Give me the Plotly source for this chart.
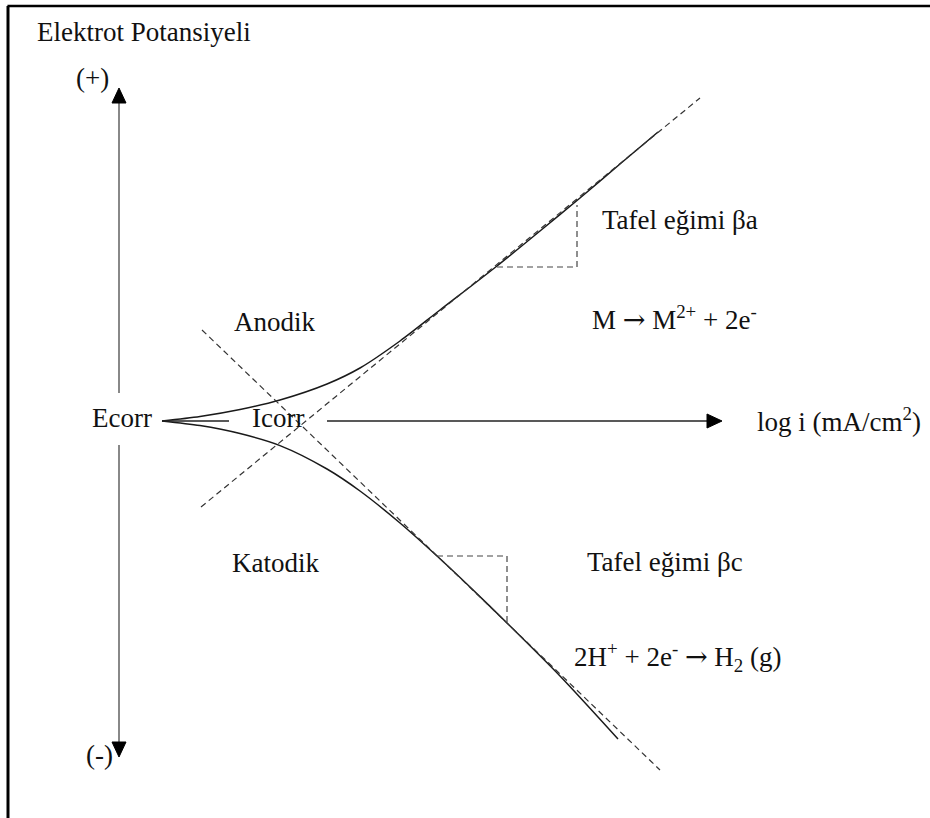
import plotly.graph_objects as go

# Polarization (Tafel) diagram: x = log i, y = electrode potential (Ecorr at 0)
anodic_logi = [0, 0.38, 0.78, 1.18, 1.65, 1.98, 2.38, 2.78, 3.35, 3.78, 4.18, 4.58, 4.96]
anodic_E = [0, 0.045, 0.115, 0.21, 0.37, 0.53, 0.80, 1.11, 1.55, 1.90, 2.23, 2.57, 2.89]

cathodic_logi = [0, 0.38, 0.78, 1.18, 1.65, 1.98, 2.38, 2.75, 3.08, 3.45, 3.98, 4.56]
cathodic_E = [0, -0.046, -0.126, -0.246, -0.48, -0.70, -1.02, -1.35, -1.66, -2.02, -2.55, -3.18]

# Tafel extrapolation lines (end points)
tafel_a_logi = [0.39, 5.38]
tafel_a_E = [-0.86, 3.23]
tafel_c_logi = [0.40, 4.98]
tafel_c_E = [0.91, -3.49]

# Slope triangles
tri_a_logi = [3.35, 4.15, 4.15]
tri_a_E = [1.54, 1.54, 2.16]
tri_c_logi = [2.75, 3.45, 3.45]
tri_c_E = [-1.35, -1.35, -2.02]

# Axes of the diagram
E_axis_x = -0.43
E_axis_top, E_axis_bottom = 3.33, -3.36
E_axis_gap = [0.28, -0.24]
i_axis_segments = [[0.0, 0.67], [1.65, 5.60]]

X_RANGE = [-1.62, 7.68]
Y_RANGE = [-3.97, 4.21]

FONT = "Liberation Serif, Times New Roman, serif"
FS = 27
HEAD_L, HEAD_W = 0.15, 0.14
ARROW = '<span style="font-family:DejaVu Serif">\u2192</span>'

fig = go.Figure()

def line(x, y, color="#1a1a1a", width=1.4, dash=None, shape="linear"):
    fig.add_trace(go.Scatter(x=x, y=y, mode="lines", hoverinfo="skip",
                             line=dict(color=color, width=width, dash=dash, shape=shape,
                                       smoothing=0.8 if shape == "spline" else None)))

def head(tx, ty, dx, dy):
    # filled triangle with its tip at (tx, ty) pointing along (dx, dy)
    bx, by = tx - dx * HEAD_L, ty - dy * HEAD_L
    px, py = -dy * HEAD_W / 2, dx * HEAD_W / 2
    fig.add_trace(go.Scatter(x=[tx, bx + px, bx - px, tx], y=[ty, by + py, by - py, ty],
                             mode="lines", fill="toself", fillcolor="#000",
                             line=dict(color="#000", width=1), hoverinfo="skip"))

# polarization curves
line(anodic_logi, anodic_E, shape="spline", width=1.5)
line(cathodic_logi, cathodic_E, shape="spline", width=1.5)

# Tafel lines and slope triangles
dash = "6px,4px"
line(tafel_a_logi, tafel_a_E, color="#333", width=1.2, dash=dash)
line(tafel_c_logi, tafel_c_E, color="#333", width=1.2, dash=dash)
line(tri_a_logi, tri_a_E, color="#444", width=1.2, dash=dash)
line(tri_c_logi, tri_c_E, color="#444", width=1.2, dash=dash)

# potential axis (double arrow with a gap for the Ecorr label)
line([E_axis_x, E_axis_x], [E_axis_gap[0], E_axis_top - HEAD_L], color="#888", width=2)
line([E_axis_x, E_axis_x], [E_axis_gap[1], E_axis_bottom + HEAD_L], color="#888", width=2)
head(E_axis_x, E_axis_top, 0, 1)
head(E_axis_x, E_axis_bottom, 0, -1)

# current axis
left_seg, right_seg = i_axis_segments
line(left_seg, [0, 0], color="#222", width=1.6)
line([right_seg[0], right_seg[1] - HEAD_L], [0, 0], color="#222", width=1.6)
head(right_seg[1], 0, 1, 0)

labels = [
    ("Elektrot Potansiyeli", -1.27, 3.89),
    ("(+)", -0.88, 3.43),
    ("(-)", -0.78, -3.34),
    ("Anodik", 0.70, 0.99),
    ("Ecorr", -0.72, 0.03),
    ("Icorr", 0.88, 0.03),
    ("Katodik", 0.68, -1.42),
    (f"M {ARROW} M<sup>2+</sup> + 2e<sup>-</sup>", 4.28, 1.03),
    ("Tafel eğimi βa", 4.38, 2.01),
    ("Tafel eğimi βc", 4.23, -1.41),
    (f"2H<sup>+</sup> + 2e<sup>-</sup> {ARROW} H<sub>2</sub> (g)", 4.10, -2.36),
    ("log i (mA/cm<sup>2</sup>)", 5.93, 0.01),
]
for text, x, y in labels:
    fig.add_annotation(x=x, y=y, text=text, showarrow=False, xanchor="left", yanchor="middle",
                       font=dict(family=FONT, size=FS, color="#111"))

# frame (top and left edges)
fig.add_shape(type="line", xref="paper", yref="paper", x0=0.008, x1=1, y0=0.9927, y1=0.9927,
              line=dict(color="#000", width=2.5))
fig.add_shape(type="line", xref="paper", yref="paper", x0=0.0086, x1=0.0086, y0=0, y1=0.9927,
              line=dict(color="#000", width=3))

fig.update_layout(
    width=930, height=818, margin=dict(l=0, r=0, t=0, b=0),
    paper_bgcolor="white", plot_bgcolor="white", showlegend=False,
    xaxis=dict(range=X_RANGE, visible=False, fixedrange=True),
    yaxis=dict(range=Y_RANGE, visible=False, fixedrange=True),
)

fig.write_html("out.html")
